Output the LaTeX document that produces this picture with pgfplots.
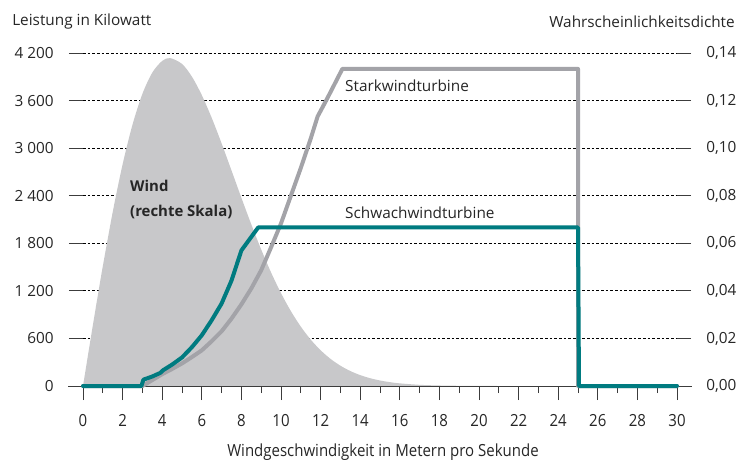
\documentclass[border=0pt]{standalone}
\usepackage{fontspec}
\setmainfont{Open Sans}
\usepackage{graphicx}
\usepackage{pgfplots}
\pgfplotsset{compat=1.18}
\definecolor{tealline}{RGB}{0,123,128}
\definecolor{grayline}{RGB}{163,163,168}
\definecolor{grayfill}{RGB}{200,200,202}
\definecolor{tickcol}{RGB}{60,60,60}

\pgfplotstableread{
x d
0 0
0.25 0.01289
0.5 0.02566
0.75 0.03818
1 0.05033
1.5 0.07311
2 0.09317
2.5 0.10988
3 0.12282
3.5 0.13176
4 0.13668
4.4 0.13785
5 0.13541
5.5 0.13007
6 0.12230
6.5 0.11275
7 0.10200
7.5 0.09062
8 0.07912
8.5 0.06795
9 0.05738
9.5 0.04771
10 0.03905
10.5 0.03146
11 0.02497
11.5 0.01951
12 0.01504
12.5 0.01141
13 0.00854
13.5 0.00630
14 0.00458
14.5 0.00328
15 0.00232
15.5 0.00162
16 0.00111
17 0.00050
18 0.00022
19 0.00009
20 0.00003
21 0
}\wind

\pgfplotstableread{
x p
0 0
2.95 0
3.05 80
3.5 120
3.9 165
4.05 200
4.5 270
5 360
5.5 490
6 640
6.5 830
7 1040
7.5 1330
8.0 1710
8.85 2000
25 2000
25.05 0
30 0
}\schwach

\pgfplotstableread{
x p
0 0
3 0
3.5 75
4 150
4.5 215
5 285
5.5 365
6 450
6.5 565
7 690
7.5 850
8 1030
8.5 1230
9 1460
9.5 1750
10 2050
10.5 2400
11 2750
11.5 3120
11.85 3400
12.3 3610
13.1 4000
25 4000
25 0
30 0
}\stark

\begin{document}
\begin{tikzpicture}
\useasboundingbox (-62.25pt,-56.25pt) rectangle (491.25pt,289.5pt);
\pgfplotsset{
  base/.style={
    scale only axis, width=445.5pt, height=249.75pt,
    xmin=0, xmax=30, at={(0,0)}, anchor=south west,
    /pgf/number format/assume math mode=true,
    axis line style={draw=none},
    tick style={color=tickcol, line width=0.7pt},
    major tick length=10.5pt, minor tick length=5.25pt,
    tick align=outside,
  }
}
% grid + left axis + x ticks
\begin{axis}[base,
  ymin=0, ymax=4200, ytick={0,600,...,4200}, ytick pos=left,
  scaled y ticks=false,
  xtick={0,2,...,30}, minor xtick={1,3,...,29}, xtick pos=bottom,
  ymajorgrids,
  major grid style={black, line width=0.55pt, dash pattern=on 2pt off 1.5pt},
  yticklabel style={font=\fontsize{11.5}{13}\selectfont, color=black!85, xshift=-8pt,
    /pgf/number format/1000 sep={\ }},
  xticklabel={\scalebox{0.9}[1]{\pgfmathprintnumber{\tick}}},
  xticklabel style={font=\fontsize{12.5}{14}\selectfont, color=black!85, yshift=-7pt},
]
\addplot[draw=none] coordinates {(0,0) (30,0)};
\end{axis}
% right axis with wind distribution
\begin{axis}[base,
  ymin=0, ymax=0.14, ytick={0,0.02,0.04,0.06,0.08,0.10,0.12,0.14}, ytick pos=right,
  scaled y ticks=false, xtick=\empty,
  yticklabel style={font=\fontsize{11.5}{13}\selectfont, color=black!85, xshift=8pt,
    /pgf/number format/.cd, fixed, fixed zerofill, precision=2, use comma},
]
\addplot[fill=grayfill, draw=none, smooth, tension=0.5] table[x=x, y=d] {\wind} \closedcycle;
\end{axis}
\draw[tickcol, line width=0.7pt] (-11pt,0) -- (456.5pt,0);
% turbine curves
\begin{axis}[base, ymin=0, ymax=4200, hide axis, clip=false]
\addplot[grayline, line width=3pt, line join=round, line cap=round] table[x=x, y=p] {\stark};
\addplot[tealline, line width=3pt, line join=round, line cap=round] table[x=x, y=p] {\schwach};
\node[anchor=west, inner sep=0pt, align=left, font=\fontsize{11.2}{18.75}\selectfont\bfseries, text=black!85]
  at (axis cs:2.37,2352) {Wind\\(rechte Skala)};
\node[anchor=west, inner sep=0pt, font=\fontsize{11.5}{13}\selectfont, text=black!85]
  at (axis cs:13.23,3784) {Starkwindturbine};
\node[anchor=west, inner sep=0pt, font=\fontsize{11.5}{13}\selectfont, text=black!85]
  at (axis cs:13.23,2182) {Schwachwindturbine};
\end{axis}
\node[anchor=west, inner sep=0pt, font=\fontsize{11.5}{13}\selectfont, text=black!85]
  at (-53.25pt,273pt) {Leistung in Kilowatt};
\node[anchor=east, inner sep=0pt, font=\fontsize{11.5}{13}\selectfont, text=black!85]
  at (489pt,273pt) {Wahrscheinlichkeitsdichte};
\node[inner sep=0pt, font=\fontsize{12.5}{14}\selectfont, text=black!85]
  at (225pt,-49.5pt) {\scalebox{0.9}[1]{Windgeschwindigkeit in Metern pro Sekunde}};
\end{tikzpicture}
\end{document}
